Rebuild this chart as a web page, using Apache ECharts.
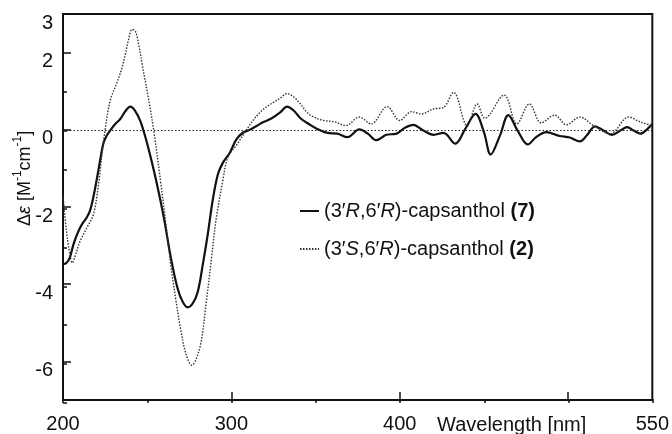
<!DOCTYPE html>
<html>
<head>
<meta charset="utf-8">
<script src="https://cdn.jsdelivr.net/npm/echarts@6/dist/echarts.min.js"></script>
<style>html,body{margin:0;padding:0;background:#fff}#c{width:672px;height:434px}</style>
</head>
<body>
<div id="c"></div>
<script>
// Wavelength (nm) and Δε values for (3'R,6'R)-capsanthol (7), solid line
const wl7 = [200,202,204,206,208,210,212,214,216,218,220,222,224,226,228,231,234,237,240,243,246,249,252,256,260,264,268,271,274,277,280,283,286,289,292,295,299,303,307,311,315,319,324,329,333,337,341,346,351,357,363,369,376,381,386,392,398,403,408,414,420,426,433,439,445,450,454,459.5,464.5,470,476,481,487,495,501,507,511,516,521,526,531,535,539,543,547,550];
const cd7 = [-3.48,-3.45,-3.32,-3.0,-2.75,-2.55,-2.4,-2.28,-2.1,-1.75,-1.3,-0.8,-0.35,-0.15,-0.02,0.15,0.28,0.48,0.6,0.48,0.22,-0.2,-0.7,-1.45,-2.3,-3.3,-4.1,-4.45,-4.6,-4.5,-4.2,-3.5,-2.7,-1.8,-1.15,-0.85,-0.6,-0.25,-0.07,0.0,0.1,0.2,0.3,0.45,0.6,0.5,0.3,0.15,0.02,-0.08,-0.1,-0.19,0.01,-0.1,-0.27,-0.13,-0.1,0.05,0.13,-0.02,-0.13,-0.08,-0.36,0.03,0.41,-0.06,-0.64,-0.15,0.38,-0.02,-0.38,-0.19,-0.06,-0.16,-0.2,-0.3,-0.15,0.09,-0.02,-0.13,-0.02,0.07,-0.02,-0.1,0.02,0.15];
// (3'S,6'R)-capsanthol (2), dotted line
const wl2 = [200,202,204,205.5,207,210,214,218,221,223,225,228,232,235,237,239,241,243,245,247,251,254,258,261,264,267,270,273,276.5,279,282,285,288,291,295,298,303,309,313,317,321,325,329,333,337,341,345,349,355,361,368,376,383,392.5,400,407,413,420,426,432,440,446,450.5,462,469.5,477,484,492,499,507,515,525,536,543,550];
const cd2 = [-1.7,-2.6,-3.2,-3.45,-3.3,-2.9,-2.55,-2.2,-1.45,-0.7,0.0,0.75,1.22,1.6,1.95,2.35,2.6,2.55,2.2,1.7,0.75,-0.05,-1.35,-2.4,-3.5,-4.4,-5.2,-5.8,-6.1,-5.95,-5.5,-4.5,-3.4,-2.3,-1.3,-0.7,-0.4,0.0,0.25,0.45,0.6,0.71,0.82,0.94,0.85,0.67,0.45,0.33,0.24,0.21,0.11,0.33,0.15,0.6,0.24,0.47,0.41,0.54,0.58,0.97,0.11,0.67,0.3,0.9,0.15,0.67,0.18,0.38,0.13,0.33,0.11,-0.1,0.33,0.2,0.11];
const xLabelVals = [200,300,400,550];
const xMajorTicks = [300,400,500];
const yLabelVals = [-6,-4,-2,0,2,3];
const yMajorTicks = [-6,-4,-2,0,2];
const name7 = '{a|(3′}{i|R}{a|,6′}{i|R}{a|)-capsanthol }{b|(7)}';
const name2 = '{a|(3′}{i|S}{a|,6′}{i|R}{a|)-capsanthol }{b|(2)}';

const FONT = 'Liberation Sans, Arial, Helvetica, sans-serif';
const INK = '#111';
const chart = echarts.init(document.getElementById('c'), null, {renderer:'canvas'});
const gridRect = {left:63, right:19, top:14, bottom:31};
const pairs = (xs, ys) => xs.map((x,i)=>[x, ys[i]]);
const richTxt = {
  a:{fontFamily:FONT,fontSize:20,color:INK},
  i:{fontFamily:FONT,fontSize:20,color:INK,fontStyle:'italic'},
  b:{fontFamily:FONT,fontSize:20,color:INK,fontWeight:'bold'}
};
chart.setOption({
  animation:false,
  backgroundColor:'#fff',
  grid:[
    Object.assign({show:true, borderColor:INK, borderWidth:2, backgroundColor:'transparent'}, gridRect),
    Object.assign({show:false}, gridRect)
  ],
  xAxis:[
    {type:'value', gridIndex:0, min:200, max:550,
     axisLine:{show:true, onZero:false, lineStyle:{color:INK,width:2}},
     axisTick:{show:true, inside:true, length:8, customValues:xMajorTicks, lineStyle:{color:INK,width:1.5}},
     axisLabel:{show:true, customValues:xLabelVals, margin:14, fontFamily:FONT, fontSize:20, color:INK},
     splitLine:{show:false}},
    {type:'value', gridIndex:1, min:200, max:550, interval:50,
     axisLine:{show:false, onZero:false},
     axisTick:{show:true, inside:true, length:4, lineStyle:{color:INK,width:1.5}},
     axisLabel:{show:false}, splitLine:{show:false}}
  ],
  yAxis:[
    {type:'value', gridIndex:0, min:-7, max:3,
     axisLine:{show:true, onZero:false, lineStyle:{color:INK,width:2}},
     axisTick:{show:true, inside:true, length:8, customValues:yMajorTicks, lineStyle:{color:INK,width:1.5}},
     axisLabel:{show:true, customValues:yLabelVals, margin:10, fontFamily:FONT, fontSize:20, color:INK,
       formatter:'{v|{value}}', rich:{v:{fontFamily:FONT, fontSize:20, color:INK, padding:[18,0,0,0]}}},
     splitLine:{show:false}},
    {type:'value', gridIndex:1, min:-7, max:3, interval:1,
     axisLine:{show:false, onZero:false},
     axisTick:{show:true, inside:true, length:4, lineStyle:{color:INK,width:1.5}},
     axisLabel:{show:false}, splitLine:{show:false}}
  ],
  legend:{
    orient:'vertical', left:294, top:196, itemGap:18, itemWidth:19, itemHeight:14,
    data:[name7, name2],
    itemStyle:{color:'rgba(0,0,0,0)', borderColor:'rgba(0,0,0,0)', borderWidth:0},
    textStyle:{fontFamily:FONT, fontSize:20, color:INK, rich:richTxt}
  },
  graphic:[
    {type:'text', left:437, top:415, style:{text:'Wavelength [nm]', font:'20px '+FONT, fill:INK}},
    {type:'text', x:12, y:226, rotation:Math.PI/2, style:{
      text:'{d|Δ}{e|ε}{d| [M}{s|-1}{d|cm}{s|-1}{d|]}',
      rich:{
        d:{fontFamily:FONT,fontSize:18,fill:INK,color:INK,verticalAlign:'bottom',lineHeight:22},
        e:{fontFamily:FONT,fontSize:18,fill:INK,color:INK,fontStyle:'italic',verticalAlign:'bottom',lineHeight:22},
        s:{fontFamily:FONT,fontSize:12,fill:INK,color:INK,verticalAlign:'top',lineHeight:22}
      }}}
  ],
  series:[
    {name:name7, type:'line', xAxisIndex:0, yAxisIndex:0, data:pairs(wl7, cd7), symbol:'none', smooth:0.35,
     lineStyle:{color:INK, width:2.2}, itemStyle:{color:INK},
     markLine:{silent:true, symbol:'none', label:{show:false},
       lineStyle:{color:'#222', width:1.2, type:[1.5,2]}, data:[{yAxis:0}]}},
    {name:name2, type:'line', xAxisIndex:0, yAxisIndex:0, data:pairs(wl2, cd2), symbol:'none', smooth:0.35,
     lineStyle:{color:'#333', width:1.4, type:[1.5,1.5]}, itemStyle:{color:'#333'}}
  ]
});
</script>
</body>
</html>
